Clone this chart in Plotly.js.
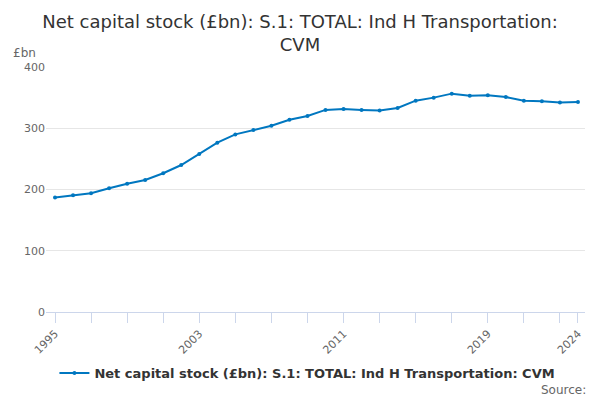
<!DOCTYPE html>
<html>
<head>
<meta charset="utf-8">
<script src="https://cdn.plot.ly/plotly-3.0.1.min.js"></script>
<style>
  html, body { margin: 0; padding: 0; background: #fff; }
  #chart { width: 600px; height: 400px; }
</style>
</head>
<body>
<div id="chart"></div>
<script>
// Jahre und Werte
const years = [1995, 1996, 1997, 1998, 1999, 2000, 2001, 2002, 2003, 2004,
               2005, 2006, 2007, 2008, 2009, 2010, 2011, 2012, 2013, 2014,
               2015, 2016, 2017, 2018, 2019, 2020, 2021, 2022, 2023, 2024];
const stock = [187, 190.5, 194, 202, 209.5, 215.5, 226.5, 240, 258, 276.5,
               290, 297, 304, 314, 320, 330, 331.5, 330, 329, 333,
               345, 350, 356.5, 353, 354, 351, 345, 344, 342, 343];

const tickYears = [1995, 1997, 1999, 2001, 2003, 2005, 2007, 2009, 2011, 2013,
                   2015, 2017, 2019, 2021, 2023, 2024];
const labelYears = [1995, 2003, 2011, 2019, 2024];

const seriesName = 'Net capital stock (£bn): S.1: TOTAL: Ind H Transportation: CVM';
const font = 'DejaVu Sans, sans-serif';

const trace = {
  x: years,
  y: stock,
  mode: 'lines+markers',
  name: seriesName,
  line: { color: '#0077c0', width: 2 },
  marker: { color: '#0077c0', size: 4 }
};

const layout = {
  width: 600,
  height: 400,
  paper_bgcolor: '#fff',
  plot_bgcolor: '#fff',
  margin: { l: 46, r: 15, t: 67, b: 88 },
  font: { family: font, color: '#333' },
  title: {
    text: 'Net capital stock (£bn): S.1: TOTAL: Ind H Transportation:<br>CVM',
    font: { family: font, size: 18, color: '#333' },
    x: 0.5, xanchor: 'center',
    y: 0.93, yanchor: 'top', yref: 'container'
  },
  xaxis: {
    range: [1994.5, 2024.39],
    tickmode: 'array',
    tickvals: tickYears,
    ticktext: tickYears.map(y => labelYears.includes(y) ? String(y) : ''),
    tickangle: -45,
    ticks: 'outside',
    ticklen: 10,
    tickcolor: '#ccd6eb',
    showline: true,
    linecolor: '#ccd6eb',
    showgrid: false,
    zeroline: false,
    tickfont: { family: font, size: 11, color: '#666' }
  },
  yaxis: {
    range: [0, 400],
    tickvals: [0, 100, 200, 300, 400],
    gridcolor: '#e6e6e6',
    zeroline: false,
    showline: false,
    ticks: '',
    tickfont: { family: font, size: 11, color: '#666' }
  },
  showlegend: true,
  legend: {
    orientation: 'h',
    x: 0.485, xanchor: 'center',
    y: -0.249, yanchor: 'middle',
    itemwidth: 30,
    font: { family: font, size: 13, color: '#333', weight: 'bold' }
  },
  annotations: [
    {
      text: '£bn', xref: 'paper', yref: 'paper',
      x: -0.065, xanchor: 'left', y: 1.057, yanchor: 'middle',
      showarrow: false, font: { family: font, size: 12, color: '#666' }
    },
    {
      text: 'Source:', xref: 'paper', yref: 'paper',
      x: 1.006, xanchor: 'right', y: -0.318, yanchor: 'middle',
      showarrow: false, font: { family: font, size: 12, color: '#666' }
    }
  ]
};

Plotly.newPlot('chart', [trace], layout, { displayModeBar: false, staticPlot: true });
</script>
</body>
</html>
